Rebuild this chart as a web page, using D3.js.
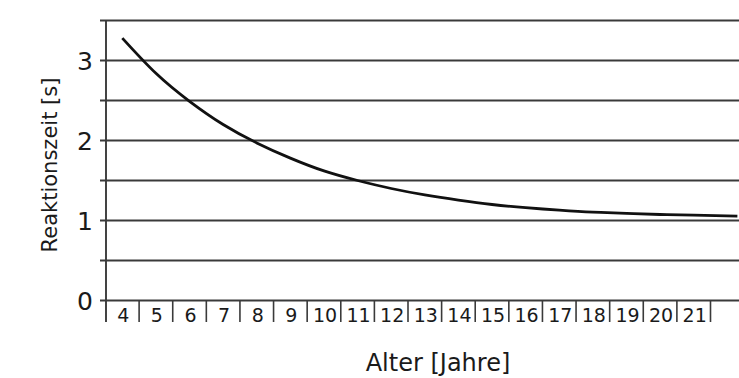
<!DOCTYPE html>
<html><head><meta charset="utf-8">
<script src="https://cdn.jsdelivr.net/npm/d3@7"></script>
<style>
html,body{margin:0;padding:0;background:#fff;}
svg{display:block;}
text{font-family:"DejaVu Sans",sans-serif;fill:#1a1a1a;}
</style></head>
<body>
<script>
const categories = ["4","5","6","7","8","9","10","11","12","13","14","15","16","17","18","19","20","21"];
const ages =   [4,    5,    6,    7,    8,    9,    10,   11,   12,   13,   14,    15,   16,    17,   18,    19,    20,    21,    22.3];
const values = [3.28, 2.84, 2.49, 2.20, 1.97, 1.78, 1.62, 1.50, 1.40, 1.32, 1.255, 1.20, 1.16,  1.13, 1.105, 1.088, 1.075, 1.066, 1.055];
const yTicks = [0, 1, 2, 3];
const gridValues = [0, 0.5, 1, 1.5, 2, 2.5, 3, 3.5];
const xTitle = "Alter [Jahre]";
const yTitle = "Reaktionszeit [s]";

const W = 739, H = 378;
const svg = d3.select("body").append("svg").attr("width", W).attr("height", H);

const xBand = d3.scaleBand().domain(categories).range([105.5, 710.5]).paddingInner(0).paddingOuter(0);
const xLin = d3.scaleLinear().domain([3.5, 21.5]).range([105.5, 710.5]);
const y = d3.scaleLinear().domain([0, 3.5]).range([300.5, 20.5]);

// horizontal grid lines
svg.append("g").selectAll("line").data(gridValues).join("line")
  .attr("x1", 100).attr("x2", W)
  .attr("y1", d => y(d)).attr("y2", d => y(d))
  .attr("stroke", "#3a3a3a").attr("stroke-width", 1.9);

// y axis line
svg.append("line").attr("x1", 106).attr("x2", 106)
  .attr("y1", y(3.5)).attr("y2", 322)
  .attr("stroke", "#3a3a3a").attr("stroke-width", 1.9);

// x category separators
const seps = categories.map(c => xBand(c) + xBand.bandwidth());
svg.append("g").selectAll("line").data(seps).join("line")
  .attr("x1", d => d).attr("x2", d => d)
  .attr("y1", y(0)).attr("y2", 322)
  .attr("stroke", "#3a3a3a").attr("stroke-width", 1.6);

// x tick labels
svg.append("g").selectAll("text").data(categories).join("text")
  .attr("x", d => xBand(d) + xBand.bandwidth() / 2 + 1)
  .attr("y", 322)
  .attr("text-anchor", "middle")
  .attr("font-size", 19)
  .text(d => d);

// y tick labels
svg.append("g").selectAll("text").data(yTicks).join("text")
  .attr("x", 93)
  .attr("y", d => y(d) + 9)
  .attr("text-anchor", "end")
  .attr("font-size", 25)
  .text(d => d);

// curve
const line = d3.line()
  .x((d, i) => xLin(ages[i]))
  .y(d => y(d))
  .curve(d3.curveNatural);
svg.append("path").datum(values)
  .attr("d", line)
  .attr("fill", "none")
  .attr("stroke", "#111")
  .attr("stroke-width", 2.8);

// titles
svg.append("text").attr("x", 438).attr("y", 371)
  .attr("text-anchor", "middle").attr("font-size", 24)
  .text(xTitle);
svg.append("text")
  .attr("transform", "translate(57,165) rotate(-90)")
  .attr("text-anchor", "middle").attr("font-size", 21)
  .text(yTitle);
</script>
</body></html>
